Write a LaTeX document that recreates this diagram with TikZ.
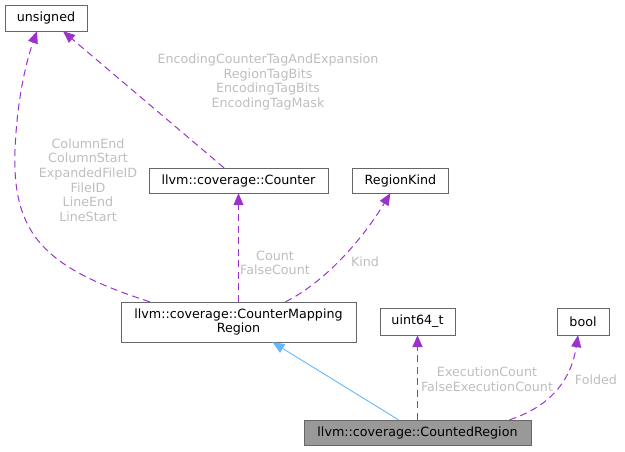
\documentclass[tikz,border=0pt]{standalone}
\usepackage{fontspec}
\setmainfont{DejaVu Sans}
\usepackage{xcolor}
\usetikzlibrary{arrows.meta, positioning}

\definecolor{boxgray}{HTML}{666666}
\definecolor{classgray}{HTML}{999999}
\definecolor{usepurple}{HTML}{9A32CD}
\definecolor{inheritblue}{HTML}{63B8FF}
\definecolor{labelgray}{HTML}{BEBEBE}

\begin{document}
\begin{tikzpicture}[x=1pt, y=-1pt,
            every node/.style={font=\fontsize{12.7}{14.6}\selectfont},
            cls/.style={draw=boxgray, fill=white, rectangle, inner sep=0pt, text centered, minimum height=25pt},
            current/.style={cls, fill=classgray},
            lbl/.style={text=labelgray, align=center, inner sep=0pt},
            uses/.style={draw=usepurple, dash pattern=on 7pt off 4.5pt, line width=1pt, -{Triangle[length=12pt, width=10pt, fill=usepurple]}},
            inherits/.style={draw=inheritblue, line width=0.9pt, -{Triangle[length=12pt, width=10pt, fill=inheritblue]}}]

            \useasboundingbox (0,0) rectangle (625,451);

            % Row 1
            \node (unsigned) [cls, minimum width=82pt, minimum height=26pt] at (46,18) {unsigned};

            % Row 2
            \node (counter) [cls, minimum width=179pt] at (238.5,180.5) {llvm::coverage::Counter};
            \node (regionkind) [cls, minimum width=96pt, right=24pt of counter] {RegionKind};

            % Row 3
            \node (cmr) [cls, minimum width=235pt, minimum height=40pt, align=center] at (238.5,322) {llvm::coverage::CounterMapping\\Region};
            \node (uint64) [cls, minimum width=75pt, minimum height=27pt] at (417.5,321.5) {uint64\_t};
            \node (bool) [cls, minimum width=52pt, minimum height=27pt] at (583,321.5) {bool};

            % Row 4
            \node (counted) [current, minimum width=227pt] at (417.5,432.5) {llvm::coverage::CountedRegion};

            % Edge labels
            \node (lbl_positions) [lbl] at (88,180) {ColumnEnd\\ColumnStart\\ExpandedFileID\\FileID\\LineEnd\\LineStart};
            \node (lbl_encoding) [lbl] at (268,82) {EncodingCounterTagAndExpansion\\RegionTagBits\\EncodingTagBits\\EncodingTagMask};
            \node (lbl_count) [lbl] at (275,263) {Count\\FalseCount};
            \node (lbl_kind) [lbl] at (365,262) {Kind};
            \node (lbl_exec) [lbl] at (487,379.5) {ExecutionCount\\FalseExecutionCount};
            \node (lbl_folded) [lbl] at (596,380) {Folded};

            % Connections
            \draw [uses] ([xshift=29pt]cmr.north west) .. controls (45,268) and (12,235) .. (15,150)
                .. controls (17,100) and (26,62) .. ([xshift=-9pt]unsigned.south);
            \draw [uses] ([xshift=-14.5pt]counter.north) -- ([xshift=17pt]unsigned.south);
            \draw [uses] (cmr.north) -- (counter.south);
            \draw [uses] ([xshift=47pt]cmr.north) .. controls (325,282) and (362,240) .. ([xshift=-10pt]regionkind.south);
            \draw [inherits] ([xshift=-19pt]counted.north) -- ([xshift=34pt]cmr.south);
            \draw [uses, line width=1.8pt] (counted.north) -- (uint64.south);
            \draw [uses] ([xshift=92pt]counted.north) .. controls (555,405) and (572,375) .. ([xshift=-5pt]bool.south);
        \end{tikzpicture}
\end{document}
